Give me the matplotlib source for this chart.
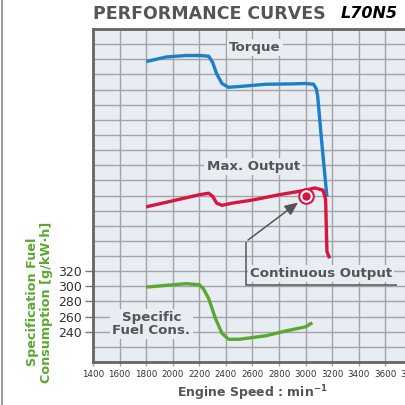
import matplotlib
matplotlib.use("Agg")
import matplotlib.pyplot as plt
from matplotlib.lines import Line2D
import numpy as np

# ---- data (chart units on shared grid scale) ----
torque_rpm = [1800, 1950, 2100, 2200, 2270, 2300, 2330, 2370, 2420, 2500, 2700, 2900, 3000, 3060, 3080, 3090, 3120, 3160]
torque_val = [597, 603, 605, 605, 604, 596, 581, 568, 563, 564, 567, 567.5, 568, 567, 561, 552, 492, 418]

output_rpm = [1800, 2000, 2200, 2270, 2300, 2330, 2370, 2450, 2600, 2800, 3000, 3070, 3130, 3150, 3160, 3180]
output_val = [405, 413, 421, 423, 419, 410, 407, 410, 414, 421, 427, 430, 427, 415, 346, 337]

fuel_rpm = [1800, 2000, 2100, 2200, 2230, 2270, 2320, 2370, 2420, 2500, 2700, 2850, 3000, 3050]
fuel_val = [299, 302, 303.5, 302, 297, 284, 258, 238, 230, 230, 234.6, 241, 246.5, 252]

cont_point = (3000, 419)

x_ticks = [1400, 1600, 1800, 2000, 2200, 2400, 2600, 2800, 3000, 3200, 3400, 3600, 3800]
y_ticks = [240, 260, 280, 300, 320]

BG = "#e8ecf3"
GRID = "#a3a3a3"
DARK = "#555555"
BLUE = "#1a80c8"
RED = "#d8153f"
GREEN = "#5aa832"

fig = plt.figure(figsize=(4.06, 4.05), dpi=100)
ax = fig.add_axes([93/406, 1-362/405, (412-93)/406, (362-29)/405])
ax.set_facecolor(BG)
ax.set_xlim(1400, 3800)
ax.set_ylim(200, 640)

for xv in np.arange(1400, 3801, 200):
    ax.axvline(xv, color=GRID, lw=1.0, zorder=1)
for yv in np.arange(200, 641, 20):
    ax.axhline(yv, color=GRID, lw=1.0, zorder=1)

for s in ax.spines.values():
    s.set_color("#666666")
    s.set_linewidth(2.0)

ax.set_xticks(x_ticks)
ax.set_xticklabels([str(v) for v in x_ticks], fontsize=6.3, color="#333333")
ax.set_yticks(y_ticks)
ax.set_yticklabels([str(v) for v in y_ticks], fontsize=9, color="#333333")
ax.tick_params(axis="x", direction="out", length=3, color=GRID, width=1, pad=3)
ax.tick_params(axis="y", direction="out", length=6, color="#777777", width=1, pad=2)

ax.plot(torque_rpm, torque_val, color=BLUE, lw=2.4, solid_capstyle="butt", zorder=3)
ax.plot(output_rpm, output_val, color=RED, lw=2.4, solid_capstyle="butt", zorder=3)
ax.plot(fuel_rpm, fuel_val, color=GREEN, lw=2.4, solid_capstyle="butt", zorder=3)

# continuous output marker
ax.plot([cont_point[0]], [cont_point[1]], marker="o", ms=10.5, mfc="white", mec=RED, mew=1.5, zorder=5)
ax.plot([cont_point[0]], [cont_point[1]], marker="o", ms=5, mfc=RED, mec=RED, zorder=6)

# bracket + arrow
ax.plot([2550, 2550, 3690], [359, 302, 302], color="#555555", lw=1.1, zorder=4, solid_capstyle="butt")
ax.annotate("", xy=(2960, 413), xytext=(2550, 359),
            arrowprops=dict(arrowstyle="-|>,head_length=0.8,head_width=0.35", color="#555555", lw=1.1),
            zorder=4)

box = dict(facecolor=BG, edgecolor="none", pad=1.5)
tkw = dict(fontweight="bold", color=DARK, ha="center", va="center", zorder=4, bbox=box)
ax.text(2620, 616, "Torque", fontsize=9.6, **tkw)
ax.text(2605, 458, "Max. Output", fontsize=9.6, **tkw)
ax.text(3115, 317, "Continuous Output", fontsize=9.6, **tkw)
ax.text(1840, 250, "Specific\nFuel Cons.", fontsize=9.6, linespacing=1.0, **tkw)

ax.set_xlabel("Engine Speed : min$^{\\mathregular{-1}}$", fontsize=9, fontweight="bold", color=DARK, labelpad=3)
fig.text(0.098, 1-302/405, "Specification Fuel\nConsumption [g/kW·h]", rotation=90,
         fontsize=9.2, fontweight="bold", color=GREEN, ha="center", va="center", linespacing=1.1)

fig.text(93/406, 1-14/405, "PERFORMANCE CURVES", fontsize=12.5, fontweight="bold", color="#555555",
         ha="left", va="center")
fig.text(341/406, 1-14/405, "L70N5", fontsize=11.5, fontweight="bold", fontstyle="italic", color="black",
         ha="left", va="center")

fig.add_artist(Line2D([2/406, 2/406], [0, 1], color="#888888", lw=1.2, transform=fig.transFigure))

fig.savefig("out.png", dpi=100)
